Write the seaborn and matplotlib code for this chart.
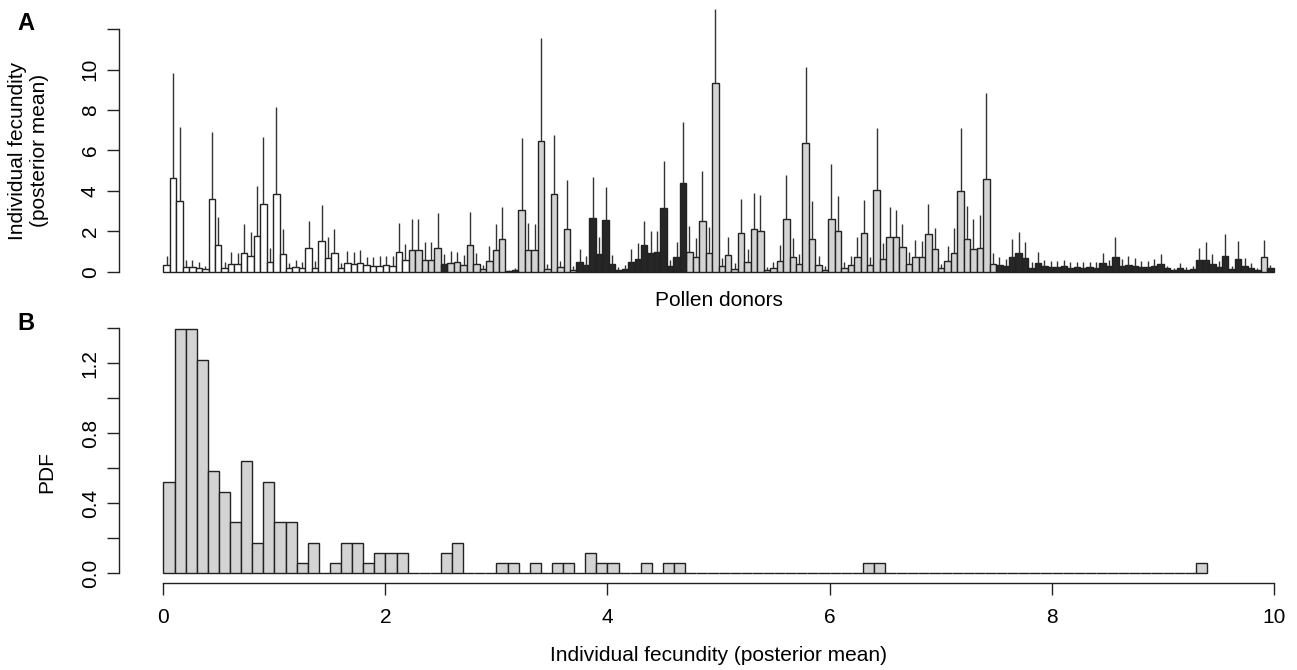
import numpy as np
import pandas as pd
import seaborn as sns
import matplotlib.pyplot as plt

# posterior mean fecundity of each pollen donor (panel A bar heights)
fecundity = [
    0.31, 4.63, 3.52, 0.23, 0.23, 0.18, 0.13, 3.62, 1.31, 0.18,
    0.38, 0.38, 0.95, 0.79, 1.78, 3.34, 0.46, 3.87, 0.89, 0.18,
    0.23, 0.18, 1.15, 0.18, 1.53, 0.69, 0.92, 0.18, 0.41, 0.38,
    0.41, 0.31, 0.28, 0.28, 0.31, 0.28, 0.97, 0.58, 1.07, 1.07,
    0.59, 0.59, 1.17, 0.38, 0.43, 0.48, 0.33, 1.31, 0.38, 0.13,
    0.54, 1.05, 1.61, 0.05, 0.08, 3.03, 1.09, 1.05, 6.49, 0.13,
    3.84, 0.23, 2.12, 0.08, 0.49, 0.35, 2.67, 0.89, 2.55, 0.38,
    0.08, 0.15, 0.48, 0.64, 1.32, 0.95, 0.98, 3.15, 0.28, 0.71,
    4.38, 0.97, 0.73, 2.52, 0.91, 9.35, 0.26, 0.84, 0.13, 1.91,
    0.49, 2.12, 2.01, 0.08, 0.18, 0.54, 2.63, 0.74, 0.38, 6.39,
    1.63, 0.31, 0.08, 2.63, 2.03, 0.18, 0.31, 0.73, 1.91, 0.31,
    4.05, 0.61, 1.71, 1.71, 1.22, 0.38, 0.74, 0.74, 1.88, 1.14,
    0.16, 0.53, 0.95, 3.99, 1.63, 1.12, 1.15, 4.58, 0.38, 0.31,
    0.26, 0.72, 0.92, 0.67, 0.18, 0.43, 0.26, 0.23, 0.23, 0.26,
    0.18, 0.21, 0.18, 0.21, 0.18, 0.42, 0.26, 0.74, 0.26, 0.33,
    0.26, 0.23, 0.25, 0.26, 0.38, 0.16, 0.08, 0.18, 0.08, 0.11,
    0.59, 0.59, 0.38, 0.23, 0.79, 0.13, 0.63, 0.28, 0.18, 0.08,
    0.74, 0.16,
]

# upper end of the credible interval (top of each whisker)
upper = [
    0.79, 9.83, 7.16, 0.59, 0.59, 0.49, 0.30, 6.90, 2.73, 0.46,
    0.99, 0.92, 2.37, 1.96, 4.22, 6.67, 1.17, 8.15, 2.12, 0.43,
    0.59, 0.46, 2.49, 0.51, 3.29, 1.74, 2.11, 0.43, 1.04, 0.97,
    1.09, 0.74, 0.72, 0.77, 0.77, 0.76, 2.42, 1.37, 2.60, 2.60,
    1.47, 1.47, 2.90, 0.87, 1.04, 0.99, 0.82, 2.98, 0.94, 0.35,
    1.28, 2.34, 3.21, 0.10, 0.18, 6.60, 2.40, 2.34, 11.56, 0.36,
    6.77, 0.54, 4.55, 0.26, 1.12, 0.79, 4.71, 1.74, 4.17, 0.82,
    0.21, 0.35, 1.12, 1.42, 2.49, 2.03, 2.03, 5.50, 0.59, 1.45,
    7.43, 2.27, 1.65, 4.99, 2.19, 13.0, 0.67, 1.74, 0.43, 3.62,
    1.12, 3.89, 3.82, 0.23, 0.49, 1.33, 4.78, 1.66, 0.89, 10.14,
    3.52, 0.76, 0.26, 5.32, 3.75, 0.46, 0.76, 1.71, 3.56, 0.73,
    7.11, 1.42, 3.20, 3.06, 2.37, 1.00, 1.58, 1.53, 3.34, 2.16,
    0.38, 1.25, 2.16, 7.11, 3.26, 2.63, 2.80, 8.84, 0.92, 0.72,
    0.62, 1.61, 1.98, 1.48, 0.46, 1.00, 0.59, 0.54, 0.51, 0.59,
    0.46, 0.46, 0.46, 0.46, 0.46, 0.95, 0.59, 1.74, 0.62, 0.76,
    0.66, 0.54, 0.54, 0.62, 0.87, 0.30, 0.20, 0.41, 0.23, 0.26,
    1.17, 1.45, 0.87, 0.51, 1.86, 0.26, 1.53, 0.67, 0.43, 0.20,
    1.58, 0.35,
]

# donor class in plotting order: (class, number of consecutive donors)
class_runs = [("white", 38), ("grey", 5), ("black", 1), ("grey", 9), ("black", 2),
              ("grey", 9), ("black", 17), ("grey", 48), ("black", 41), ("grey", 1),
              ("black", 1)]
class_colors = {"white": "white", "grey": "#d3d3d3", "black": "#262626"}

a_ticks = [0, 2, 4, 6, 8, 10, 12]
a_ticklabels = ["0", "2", "4", "6", "8", "10", ""]
b_yticks = [0, 0.2, 0.4, 0.6, 0.8, 1.0, 1.2, 1.4]
b_yticklabels = ["0.0", "", "0.4", "", "0.8", "", "1.2", ""]
b_xticks = [0, 2, 4, 6, 8, 10]

sns.set_style("ticks")
plt.rcParams["font.family"] = ["Liberation Sans", "DejaVu Sans"]
plt.rcParams["font.size"] = 15
plt.rcParams["text.color"] = "black"
plt.rcParams["axes.labelcolor"] = "black"
ink = "#222222"

donor_class = [c for c, n in class_runs for _ in range(n)]
df = pd.DataFrame({"donor": range(len(fecundity)), "fecundity": fecundity,
                   "upper": upper, "cls": donor_class})

W, H = 1297, 670
fig = plt.figure(figsize=(W / 100, H / 100), dpi=100)
axA = fig.add_axes([119 / W, 1 - 281.4 / H, 1199 / W, 261.8 / H])
axB = fig.add_axes([119 / W, 1 - 583 / H, 1199 / W, 264.5 / H])

# Panel A: donor fecundity bars with upper whiskers
sns.barplot(data=df, x="donor", y="fecundity", hue="cls", palette=class_colors,
            dodge=False, width=1, edgecolor=ink, linewidth=1, errorbar=None,
            legend=False, ax=axA)
axA.vlines(df["donor"], df["fecundity"], df["upper"], color="#333333", lw=1, clip_on=False)
axA.set_xlim(-7.38, 178.38)
axA.set_ylim(-0.48, 12.48)
axA.set_xticks([])
axA.set_yticks(a_ticks)
axA.set_yticklabels(a_ticklabels)
axA.set_xlabel("Pollen donors", labelpad=7)
axA.set_ylabel("Individual fecundity\n(posterior mean)")
axA.yaxis.set_label_coords(-0.058, 0.5)
for s in ["top", "right", "bottom"]:
    axA.spines[s].set_visible(False)
axA.spines["left"].set_bounds(0, 12)

# Panel B: histogram of the posterior means
sns.histplot(x=fecundity, bins=np.linspace(0, 9.4, 95), stat="density",
             color="#d3d3d3", edgecolor=ink, linewidth=1, alpha=1, ax=axB)
axB.set_xlim(-0.4, 10.4)
axB.set_ylim(-0.056, 1.456)
axB.set_xticks(b_xticks)
axB.set_yticks(b_yticks)
axB.set_yticklabels(b_yticklabels)
axB.set_xlabel("Individual fecundity (posterior mean)", labelpad=14)
axB.set_ylabel("PDF")
axB.yaxis.set_label_coords(-0.0525, 0.418)
for s in ["top", "right"]:
    axB.spines[s].set_visible(False)
axB.spines["left"].set_bounds(0, 1.4)
axB.spines["bottom"].set_bounds(0, 10)

for ax in (axA, axB):
    for s in ax.spines.values():
        s.set_color(ink)
        s.set_linewidth(1)
    ax.tick_params(axis="both", length=8.9, width=1, color=ink, labelsize=15,
                   labelcolor="black")
    ax.tick_params(axis="y", labelrotation=90, pad=5)
    ax.tick_params(axis="x", pad=9)
    for lab in ax.get_yticklabels():
        lab.set_va("center")

fig.text(26 / W, 1 - 23 / H, "A", fontsize=17, fontweight="bold", ha="center", va="center")
fig.text(26 / W, 1 - 324 / H, "B", fontsize=17, fontweight="bold", ha="center", va="center")

fig.savefig("out.png", dpi=100)
